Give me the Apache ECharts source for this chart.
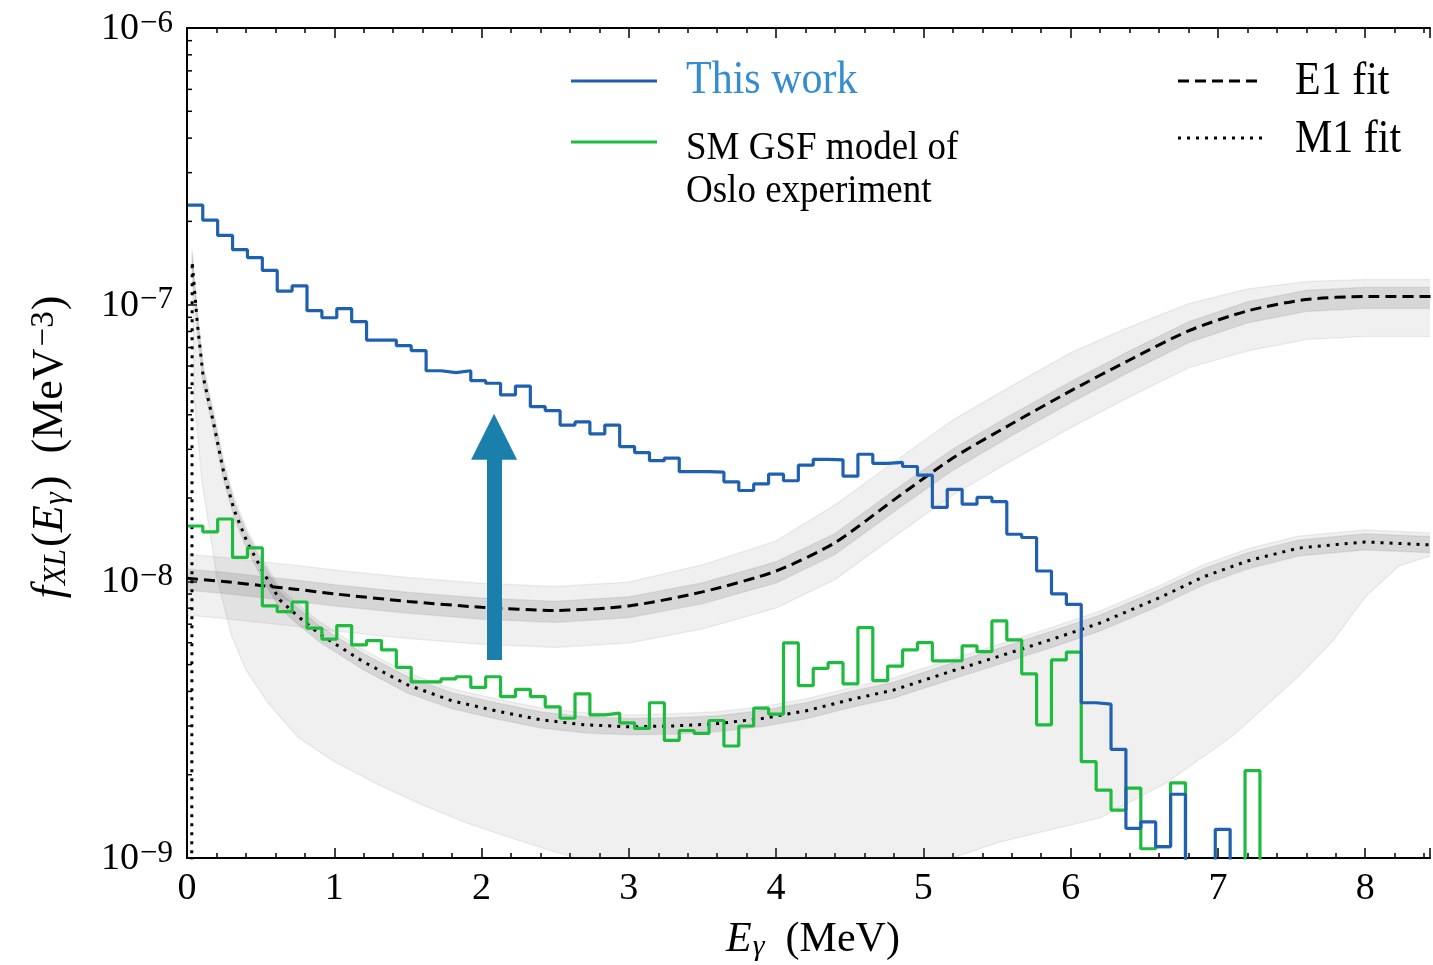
<!DOCTYPE html>
<html><head><meta charset="utf-8">
<script src="https://cdn.jsdelivr.net/npm/echarts@6/dist/echarts.min.js"></script>
<style>html,body{margin:0;padding:0;background:#fff}#c{width:1433px;height:965px}</style>
</head><body><div id="c"></div>
<script>
// ---------------- data ----------------
const BIN_START = 0.006;      // MeV, low edge of first histogram bin
const BIN_WIDTH = 0.1011;     // MeV
const FLOOR = 1e-11;          // stands in for empty bins on the log axis

const thisWork = [2.29e-7, 2.02e-7, 1.78e-7, 1.58e-7, 1.48e-7, 1.33e-7, 1.12e-7, 1.17e-7, 9.51e-8, 8.97e-8,
  9.67e-8, 8.68e-8, 7.45e-8, 7.45e-8, 7.11e-8, 6.82e-8, 5.77e-8, 5.68e-8, 5.77e-8, 5.31e-8,
  5.20e-8, 4.72e-8, 5.08e-8, 4.28e-8, 4.14e-8, 3.67e-8, 3.77e-8, 3.41e-8, 3.67e-8, 3.07e-8,
  2.92e-8, 2.73e-8, 2.79e-8, 2.49e-8, 2.49e-8, 2.48e-8, 2.29e-8, 2.13e-8, 2.25e-8, 2.44e-8,
  2.31e-8, 2.63e-8, 2.76e-8, 2.75e-8, 2.40e-8, 2.88e-8, 2.67e-8, 2.69e-8, 2.60e-8, 2.42e-8,
  1.85e-8, 2.15e-8, 1.90e-8, 2.01e-8, 1.94e-8, 1.48e-8, 1.44e-8, 1.09e-8, 9.01e-9, 8.25e-9,
  3.64e-9, 3.60e-9, 2.47e-9, 1.28e-9, 1.35e-9, 1.10e-9, 1.70e-9, 0, 0, 1.27e-9];

const smOslo = [1.585e-8, 1.51e-8, 1.68e-8, 1.22e-8, 1.32e-8, 8.15e-9, 7.77e-9, 8.42e-9, 6.77e-9, 6.18e-9,
  6.92e-9, 5.89e-9, 6.11e-9, 5.65e-9, 4.89e-9, 4.33e-9, 4.33e-9, 4.44e-9, 4.52e-9, 4.14e-9,
  4.52e-9, 3.83e-9, 4.07e-9, 3.83e-9, 3.52e-9, 3.20e-9, 3.92e-9, 3.29e-9, 3.34e-9, 3.08e-9,
  2.94e-9, 3.64e-9, 2.66e-9, 2.89e-9, 2.82e-9, 3.14e-9, 2.54e-9, 3.00e-9, 3.48e-9, 3.31e-9,
  5.99e-9, 4.20e-9, 4.85e-9, 5.08e-9, 4.26e-9, 6.80e-9, 4.38e-9, 4.94e-9, 5.65e-9, 6.00e-9,
  5.16e-9, 5.17e-9, 5.84e-9, 5.57e-9, 7.19e-9, 6.14e-9, 4.63e-9, 3.03e-9, 5.20e-9, 5.55e-9,
  2.23e-9, 1.76e-9, 1.49e-9, 1.79e-9, 1.08e-9, 1.10e-9, 1.87e-9, 0, 0, 0,
  0, 2.07e-9, 0];

const e1X = [0, 0.25, 0.5, 0.75, 1, 1.5, 2, 2.5, 3, 3.5, 4, 4.4, 4.8, 5.2, 5.6, 6, 6.4, 6.8, 7.2, 7.6, 8, 8.5];
const e1Fit = [1.026e-8, 9.99e-9, 9.66e-9, 9.35e-9, 9.01e-9, 8.46e-9, 8.06e-9, 7.85e-9, 8.15e-9, 9.16e-9, 1.09e-8,
  1.38e-8, 1.97e-8, 2.79e-8, 3.71e-8, 4.88e-8, 6.31e-8, 8.04e-8, 9.49e-8, 1.044e-7, 1.07e-7, 1.07e-7];
const e1InnerUp = [1.108e-8, 1.079e-8, 1.043e-8, 1.01e-8, 9.73e-9, 9.14e-9, 8.7e-9, 8.48e-9, 8.8e-9, 9.89e-9, 1.177e-8,
  1.49e-8, 2.13e-8, 3.01e-8, 4.01e-8, 5.27e-8, 6.81e-8, 8.68e-8, 1.025e-7, 1.128e-7, 1.156e-7, 1.156e-7];
const e1InnerLo = [9.29e-9, 9.04e-9, 8.74e-9, 8.46e-9, 8.15e-9, 7.66e-9, 7.29e-9, 7.1e-9, 7.38e-9, 8.29e-9, 9.86e-9,
  1.249e-8, 1.783e-8, 2.52e-8, 3.36e-8, 4.42e-8, 5.71e-8, 7.28e-8, 8.59e-8, 9.45e-8, 9.68e-8, 9.68e-8];
const e1OuterUp = [1.253e-8, 1.22e-8, 1.18e-8, 1.142e-8, 1.1e-8, 1.033e-8, 9.84e-9, 9.58e-9, 9.95e-9, 1.147e-8, 1.4e-8,
  1.89e-8, 2.7e-8, 3.83e-8, 5.09e-8, 6.7e-8, 8.3e-8, 1.007e-7, 1.14e-7, 1.213e-7, 1.233e-7, 1.233e-7];
const e1OuterLo = [7.54e-9, 7.34e-9, 7.1e-9, 6.87e-9, 6.62e-9, 6.22e-9, 5.92e-9, 5.77e-9, 5.99e-9, 6.73e-9, 8.01e-9,
  1.014e-8, 1.447e-8, 2.05e-8, 2.73e-8, 3.59e-8, 4.64e-8, 5.91e-8, 6.8e-8, 7.48e-8, 7.67e-8, 7.67e-8];

const m1X = [0.03, 0.035, 0.07, 0.11, 0.18, 0.25, 0.32, 0.41, 0.52, 0.63, 0.75, 0.9, 1.2, 1.5, 1.8, 2.1, 2.4, 2.7,
  3.0, 3.3, 3.6, 3.9, 4.2, 4.5, 4.8, 5.2, 5.5, 5.9, 6.2, 6.6, 6.9, 7.2, 7.55, 8.0, 8.5];
const m1Fit = [0, 1.43e-7, 8.59e-8, 5.48e-8, 3.74e-8, 2.46e-8, 1.81e-8, 1.38e-8, 1.073e-8, 8.57e-9, 7.50e-9, 6.45e-9,
  5.11e-9, 4.22e-9, 3.70e-9, 3.40e-9, 3.16e-9, 3.03e-9, 2.98e-9, 3.00e-9, 3.06e-9, 3.19e-9, 3.40e-9, 3.73e-9,
  4.05e-9, 4.75e-9, 5.33e-9, 6.24e-9, 7.07e-9, 8.71e-9, 1.037e-8, 1.185e-8, 1.32e-8, 1.388e-8, 1.35e-8];
// bands start at the spike top (m1X from index 1)
const m1InnerUp = [1.53e-7, 9.19e-8, 5.86e-8, 4.0e-8, 2.63e-8, 1.94e-8, 1.48e-8, 1.148e-8, 9.17e-9, 8.03e-9, 6.9e-9,
  5.47e-9, 4.52e-9, 3.96e-9, 3.64e-9, 3.38e-9, 3.24e-9, 3.19e-9, 3.21e-9, 3.27e-9, 3.41e-9, 3.64e-9, 3.99e-9,
  4.33e-9, 5.08e-9, 5.7e-9, 6.68e-9, 7.56e-9, 9.32e-9, 1.11e-8, 1.268e-8, 1.412e-8, 1.485e-8, 1.448e-8];
const m1InnerLo = [1.336e-7, 8.03e-8, 5.12e-8, 3.5e-8, 2.3e-8, 1.69e-8, 1.29e-8, 1.003e-8, 8.01e-9, 7.01e-9, 6.03e-9,
  4.78e-9, 3.94e-9, 3.46e-9, 3.18e-9, 2.95e-9, 2.83e-9, 2.79e-9, 2.8e-9, 2.86e-9, 2.98e-9, 3.18e-9, 3.49e-9,
  3.79e-9, 4.44e-9, 4.98e-9, 5.83e-9, 6.61e-9, 8.14e-9, 9.69e-9, 1.107e-8, 1.234e-8, 1.297e-8, 1.264e-8];
const m1OuterUp = [1.58e-7, 9.49e-8, 6.06e-8, 4.13e-8, 2.72e-8, 2.0e-8, 1.525e-8, 1.186e-8, 9.47e-9, 8.29e-9, 7.13e-9,
  5.65e-9, 4.66e-9, 4.09e-9, 3.76e-9, 3.49e-9, 3.35e-9, 3.29e-9, 3.32e-9, 3.38e-9, 3.52e-9, 3.76e-9, 4.12e-9,
  4.48e-9, 5.25e-9, 5.89e-9, 6.9e-9, 7.81e-9, 9.62e-9, 1.146e-8, 1.309e-8, 1.459e-8, 1.534e-8, 1.495e-8];
const m1OuterLoX = [0.035, 0.05, 0.1, 0.2, 0.3, 0.4, 0.55, 0.75, 1.0, 1.3, 1.6, 1.9, 2.2, 2.5, 2.8, 3.3, 4.0, 4.6,
  5.0, 5.52, 6.2, 6.65, 7.1, 7.55, 7.78, 8.0, 8.23, 8.5];
const m1OuterLo = [1.43e-7, 4.52e-8, 2.32e-8, 1.054e-8, 6.40e-9, 4.78e-9, 3.63e-9, 2.74e-9, 2.23e-9, 1.84e-9, 1.555e-9,
  1.339e-9, 1.182e-9, 1.052e-9, 9.44e-10, 8.33e-10, 7.54e-10, 7.99e-10, 9.21e-10, 1.143e-9, 1.396e-9, 1.868e-9,
  2.76e-9, 4.55e-9, 6.09e-9, 8.78e-9, 1.137e-8, 1.26e-8];

const arrowX = 2.085, arrowFrom = 5.2e-9, arrowTo = 3.33e-8;

const xTickLabels = ['0', '1', '2', '3', '4', '5', '6', '7', '8'];
const yMinorTicks = [2e-9, 3e-9, 4e-9, 5e-9, 6e-9, 7e-9, 8e-9, 9e-9,
  2e-8, 3e-8, 4e-8, 5e-8, 6e-8, 7e-8, 8e-8, 9e-8,
  2e-7, 3e-7, 4e-7, 5e-7, 6e-7, 7e-7, 8e-7, 9e-7];

// ---------------- styles ----------------
const FONT = '"Liberation Serif", "DejaVu Serif", serif';
const BLUE = '#1f61b0', GREEN = '#1fbb3f', ARROW = '#1a80ab', LBLUE = '#348dcf';

function histPoints(vals) {
  const pts = vals.map((v, k) => [BIN_START + k * BIN_WIDTH, v > 0 ? v : FLOOR]);
  pts.push([BIN_START + vals.length * BIN_WIDTH, FLOOR]);
  return pts;
}
function pairs(xs, ys) { return xs.map((x, i) => [x, ys[i] > 0 ? ys[i] : FLOOR]); }

function band(xUp, yUp, xLo, yLo, fill, z) {
  return {
    type: 'custom', coordinateSystem: 'cartesian2d', silent: true, z: z,
    data: [[xUp[0], yUp[0]]],
    renderItem: function (params, api) {
      const pts = [];
      for (let i = 0; i < xUp.length; i++) pts.push(api.coord([xUp[i], yUp[i]]));
      for (let i = xLo.length - 1; i >= 0; i--) pts.push(api.coord([xLo[i], yLo[i]]));
      const cs = params.coordSys;
      return {
        type: 'polygon', shape: { points: pts },
        style: { fill: fill, stroke: 'rgba(0,0,0,0.06)', lineWidth: 1.5 },
        clipPath: { type: 'rect', shape: { x: cs.x, y: cs.y, width: cs.width, height: cs.height } }
      };
    }
  };
}

const chart = echarts.init(document.getElementById('c'), null, { renderer: 'canvas', width: 1433, height: 965 });

const axisCommon = {
  type: 'value', min: 0, max: 8.44, interval: 1,
  axisLine: { show: true, lineStyle: { color: '#000', width: 2 } },
  axisTick: { show: true, inside: true, length: 10, lineStyle: { color: '#000', width: 1.5 } },
  minorTick: { show: true, splitNumber: 5, length: 5, lineStyle: { color: '#000', width: 1.5 } },
  splitLine: { show: false }, minorSplitLine: { show: false }
};

const option = {
  animation: false,
  backgroundColor: '#fff',
  grid: { left: 187, top: 28, width: 1244, height: 830, containLabel: false },
  xAxis: [
    Object.assign({}, axisCommon, {
      position: 'bottom',
      axisLabel: {
        show: true, margin: 12, color: '#000', fontFamily: FONT, fontSize: 38,
        formatter: v => (Number.isInteger(v) && xTickLabels[v] !== undefined) ? xTickLabels[v] : ''
      }
    }),
    Object.assign({}, axisCommon, { position: 'top', axisLabel: { show: false } })
  ],
  yAxis: {
    type: 'log', logBase: 10, min: 1e-9, max: 1e-6,
    axisLine: { show: true, lineStyle: { color: '#000', width: 2 } },
    axisTick: { show: true, inside: true, length: 10, lineStyle: { color: '#000', width: 1.5 } },
    splitLine: { show: false },
    axisLabel: {
      margin: 14, color: '#000', fontFamily: FONT,
      formatter: v => '{b|10}{s|\u2212' + Math.round(-Math.log10(v)) + '}',
      rich: {
        b: { fontSize: 38, fontFamily: FONT, color: '#000', lineHeight: 40, verticalAlign: 'bottom' },
        s: { fontSize: 31, fontFamily: FONT, color: '#000', lineHeight: 21, verticalAlign: 'top', padding: [0, 0, 0, 1] }
      }
    }
  },
  series: [
    band(e1X, e1OuterUp, e1X, e1OuterLo, 'rgba(128,128,128,0.12)', 1),
    band(m1X.slice(1), m1OuterUp, m1OuterLoX, m1OuterLo, 'rgba(128,128,128,0.12)', 1),
    band(e1X, e1InnerUp, e1X, e1InnerLo, 'rgba(110,110,110,0.2)', 2),
    band(m1X.slice(1), m1InnerUp, m1X.slice(1), m1InnerLo, 'rgba(110,110,110,0.2)', 2),
    {
      name: 'E1 fit', type: 'line', data: pairs(e1X, e1Fit), showSymbol: false, z: 3, silent: true, clip: true,
      smooth: 0.25, lineStyle: { color: '#000', width: 3, type: [11, 6] }
    },
    {
      name: 'M1 fit', type: 'line', data: pairs(m1X, m1Fit), showSymbol: false, z: 3, silent: true, clip: true,
      lineStyle: { color: '#000', width: 3, type: [3, 6] }
    },
    {
      name: 'SM GSF model of Oslo experiment', type: 'line', step: 'end', data: histPoints(smOslo),
      showSymbol: false, z: 4, silent: true, clip: true, lineStyle: { color: GREEN, width: 3.2 }
    },
    {
      name: 'This work', type: 'line', step: 'end', data: histPoints(thisWork),
      showSymbol: false, z: 4, silent: true, clip: true, lineStyle: { color: BLUE, width: 3.2 }
    },
    {
      name: 'arrow', type: 'line', data: [], z: 5, silent: true,
      markLine: {
        silent: true, animation: false, symbol: ['none', 'triangle'], symbolSize: [46, 46],
        label: { show: false }, emphasis: { disabled: true },
        lineStyle: { color: ARROW, width: 15, type: 'solid', opacity: 1 },
        itemStyle: { color: ARROW },
        data: [[{ coord: [arrowX, arrowFrom] }, { coord: [arrowX, arrowTo] }]]
      }
    },
    {
      name: 'yMinor', type: 'custom', coordinateSystem: 'cartesian2d', silent: true, z: 10,
      data: yMinorTicks.map(v => [0, v]),
      renderItem: function (params, api) {
        const p = api.coord([0, api.value(1)]);
        return { type: 'line', shape: { x1: p[0], y1: p[1], x2: p[0] + 5, y2: p[1] },
          style: { stroke: '#000', lineWidth: 1.5 } };
      }
    }
  ],
  graphic: [
    { type: 'line', shape: { x1: 571, y1: 81, x2: 657, y2: 81 }, style: { stroke: BLUE, lineWidth: 3 } },
    { type: 'text', x: 686, y: 81, scaleY: 1.1, style: { text: 'This work', fill: LBLUE, font: '42px ' + FONT, verticalAlign: 'middle' } },
    { type: 'line', shape: { x1: 571, y1: 142, x2: 657, y2: 142 }, style: { stroke: GREEN, lineWidth: 3 } },
    { type: 'text', x: 686, y: 148, scaleY: 1.1, style: { text: 'SM GSF model of', fill: '#000', font: '37px ' + FONT, verticalAlign: 'middle' } },
    { type: 'text', x: 686, y: 191, scaleY: 1.1, style: { text: 'Oslo experiment', fill: '#000', font: '37px ' + FONT, verticalAlign: 'middle' } },
    { type: 'line', shape: { x1: 1178, y1: 81, x2: 1262, y2: 81 }, style: { stroke: '#000', lineWidth: 3, lineDash: [11, 6] } },
    { type: 'text', x: 1295, y: 82, scaleY: 1.1, style: { text: 'E1 fit', fill: '#000', font: '42px ' + FONT, verticalAlign: 'middle' } },
    { type: 'line', shape: { x1: 1178, y1: 138, x2: 1262, y2: 138 }, style: { stroke: '#000', lineWidth: 3, lineDash: [3, 6] } },
    { type: 'text', x: 1295, y: 140, scaleY: 1.1, style: { text: 'M1 fit', fill: '#000', font: '42px ' + FONT, verticalAlign: 'middle' } },
    {
      type: 'text', x: 50, y: 447, rotation: Math.PI / 2,
      style: {
        text: '{i|f}{sb|XL}{n|(}{i|E}{sb|\u03b3}{n|)  (MeV}{sp|\u22123}{n|)}',
        align: 'center', verticalAlign: 'middle',
        rich: {
          i: { fontFamily: FONT, fontSize: 44, fontStyle: 'italic', lineHeight: 44, verticalAlign: 'middle', fill: '#000' },
          n: { fontFamily: FONT, fontSize: 44, lineHeight: 44, verticalAlign: 'middle', fill: '#000' },
          sb: { fontFamily: FONT, fontSize: 31, fontStyle: 'italic', lineHeight: 22, verticalAlign: 'bottom', fill: '#000', padding: [0, 2, 0, 1] },
          sp: { fontFamily: FONT, fontSize: 33, lineHeight: 22, verticalAlign: 'top', fill: '#000', padding: [0, 1, 0, 2] }
        }
      }
    },
    {
      type: 'text', x: 813, y: 940,
      style: {
        text: '{i|E}{sb|\u03b3}{n|  (MeV)}', align: 'center', verticalAlign: 'middle',
        rich: {
          i: { fontFamily: FONT, fontSize: 42, fontStyle: 'italic', lineHeight: 44, verticalAlign: 'middle', fill: '#000' },
          n: { fontFamily: FONT, fontSize: 42, lineHeight: 44, verticalAlign: 'middle', fill: '#000' },
          sb: { fontFamily: FONT, fontSize: 30, fontStyle: 'italic', lineHeight: 22, verticalAlign: 'bottom', fill: '#000', padding: [0, 0, 0, 1] }
        }
      }
    }
  ]
};
chart.setOption(option);
</script>
</body></html>
